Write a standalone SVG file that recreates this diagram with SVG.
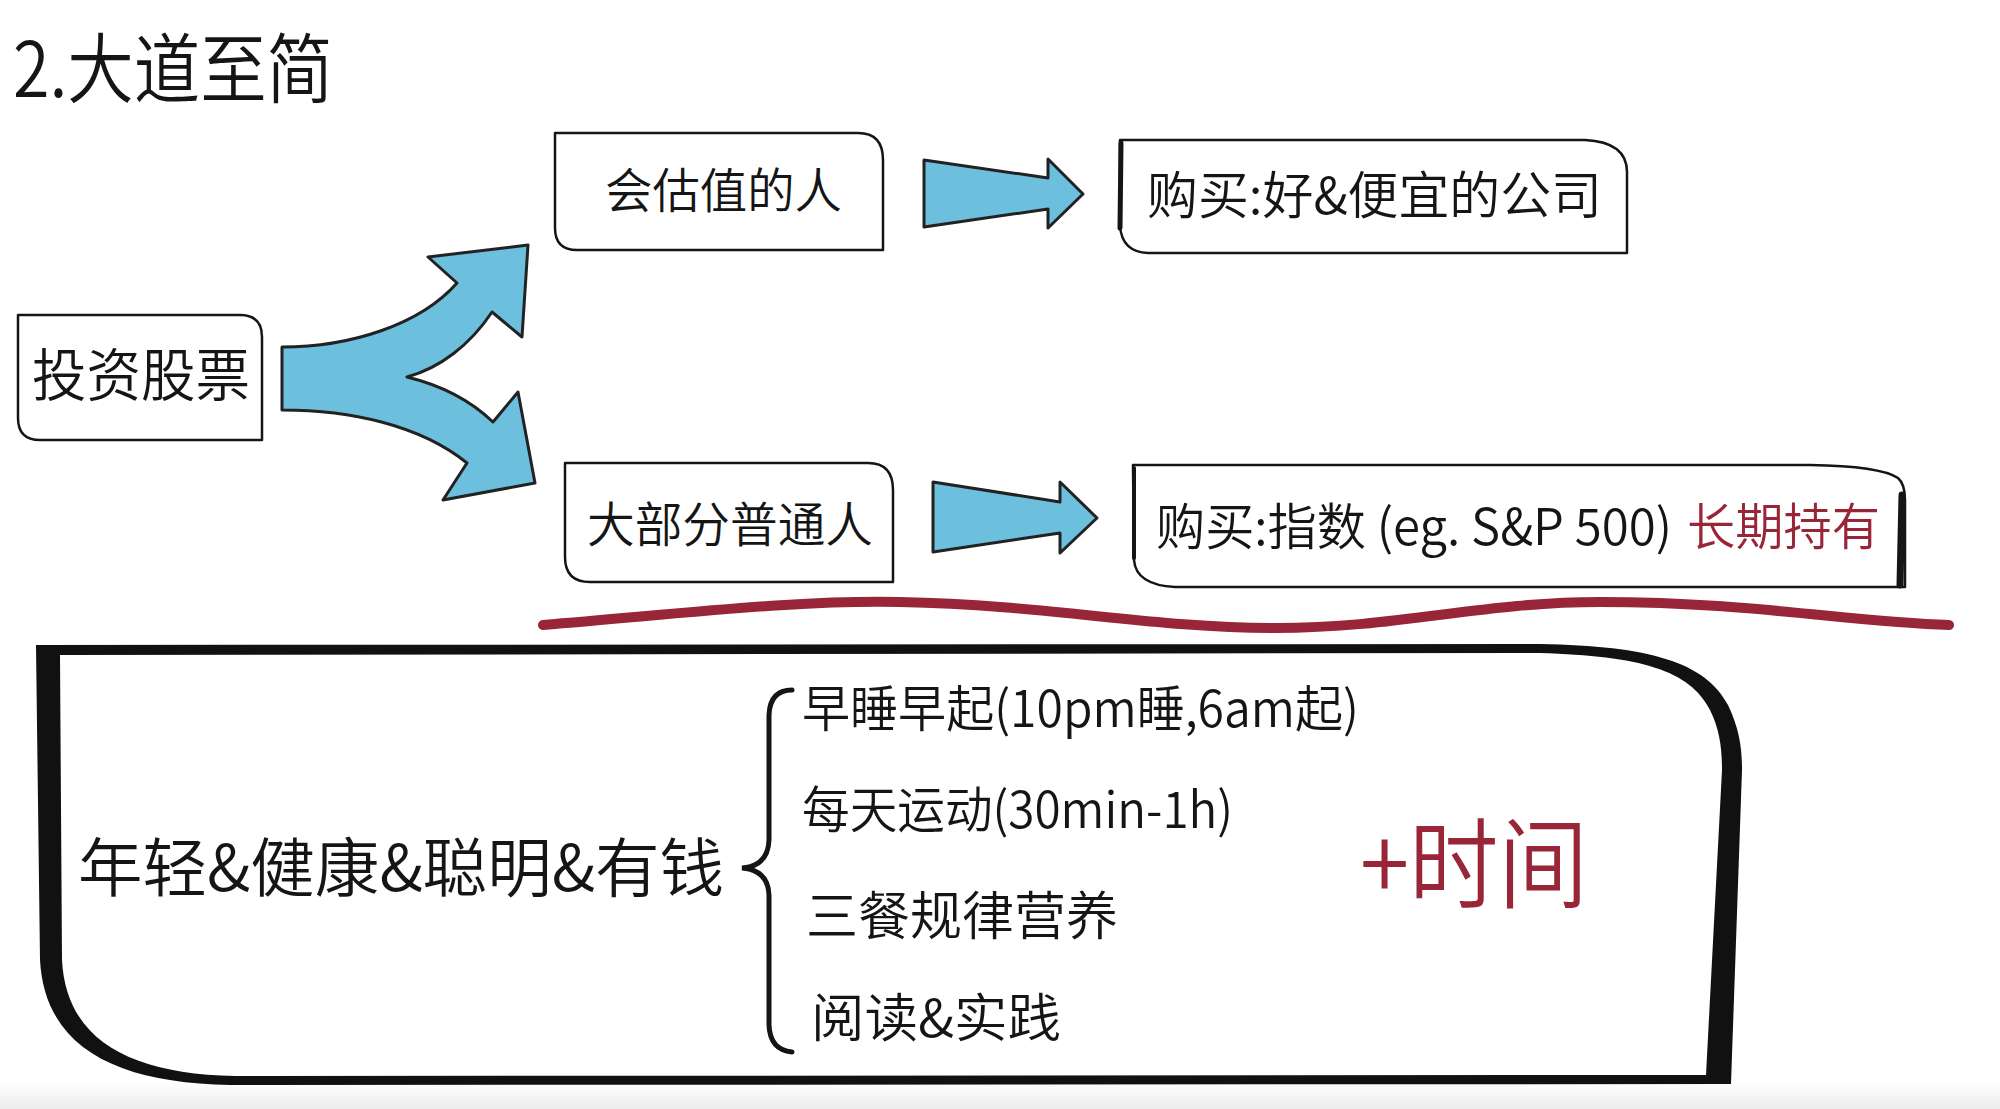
<svg xmlns="http://www.w3.org/2000/svg" width="2000" height="1109" viewBox="0 0 2000 1109">
<defs>
<style>
.t{font-family:"Noto Sans CJK SC","Noto Sans",sans-serif;font-weight:350;fill:#151515;}
.red{fill:#992638;}
.box{fill:#fff;stroke:#151515;stroke-width:2.5;stroke-linejoin:round;}
.edge{fill:none;stroke:#151515;stroke-linecap:round;}
.blue{fill:#6cbfdd;stroke:#222;stroke-width:3;stroke-linejoin:round;}
</style>
<linearGradient id="floor" x1="0" y1="0" x2="0" y2="1">
<stop offset="0" stop-color="#ffffff"/>
<stop offset="1" stop-color="#ececec"/>
</linearGradient>
</defs>
<rect x="0" y="0" width="2000" height="1109" fill="#ffffff"/>
<rect x="0" y="1082" width="2000" height="27" fill="url(#floor)"/>

<g id="title">
<text class="t" x="13" y="97" font-size="76" textLength="320" lengthAdjust="spacingAndGlyphs">2.大道至简</text>
</g>

<g id="node-invest">
<path class="box" d="M18,315 L240,315 Q262,315 262,337 L262,440 L40,440 Q18,440 18,418 Z"/>
<text class="t" x="32" y="396" font-size="57" textLength="218" lengthAdjust="spacingAndGlyphs">投资股票</text>
</g>

<g id="node-valuer">
<path class="box" d="M555,133 L858,133 Q883,133 883,160 L883,250 L577,250 Q555,250 555,228 Z"/>
<text class="t" x="605" y="208" font-size="48" textLength="237" lengthAdjust="spacingAndGlyphs">会估值的人</text>
</g>

<g id="node-buy-good">
<path class="box" d="M1120,140 L1585,140 Q1627,142 1627,172 L1627,253 L1148,253 Q1122,252 1120,226 Z"/>
<path class="edge" stroke-width="5" d="M1121,143 L1120,228"/>
<text class="t" x="1147" y="214" font-size="51" textLength="455" lengthAdjust="spacingAndGlyphs">购买:好&amp;便宜的公司</text>
</g>

<g id="node-majority">
<path class="box" d="M565,463 L868,463 Q893,463 893,490 L893,582 L590,582 Q565,582 565,557 Z"/>
<text class="t" x="587" y="542" font-size="48" textLength="286" lengthAdjust="spacingAndGlyphs">大部分普通人</text>
</g>

<g id="node-buy-index">
<path class="box" d="M1133,465 L1810,465 Q1880,466 1898,478 Q1905,484 1905,500 L1905,587 L1175,587 Q1136,585 1134,560 Z"/>
<path class="edge" stroke-width="7" d="M1902,495 L1900,585"/>
<path class="edge" stroke-width="4" d="M1134,468 L1134,558"/>
<text class="t" x="1156" y="545" font-size="50" textLength="516" lengthAdjust="spacingAndGlyphs">购买:指数 (eg. S&amp;P 500)</text>
<text class="t red" x="1687" y="545" font-size="50" textLength="193" lengthAdjust="spacingAndGlyphs">长期持有</text>
</g>

<g id="connectors">
<path class="blue" d="M282,347 C350,347 420,325 457,283 L428,257 L528,245 L522,337 L492,312 C470,345 440,368 407,377 C440,385 470,400 493,422 L518,392 L535,483 L443,500 L467,463 C420,425 350,410 282,410 Z"/>
<path class="blue" d="M924,160 L1048,178 L1048,159 L1083,194 L1048,228 L1048,209 L924,227 Z"/>
<path class="blue" d="M933,482 L1060,502 L1060,482 L1097,518 L1060,553 L1060,533 L933,552 Z"/>
</g>

<g id="underline">
<path d="M543,625 C700,612 800,600 900,602 C1050,605 1150,628 1275,628 C1400,628 1480,602 1600,602 C1750,602 1850,622 1949,625" fill="none" stroke="#992638" stroke-width="10" stroke-linecap="round"/>
</g>

<g id="node-summary">
<path fill="#111" fill-rule="evenodd" d="M36,645 L1540,644 C1650,646 1705,662 1728,705 C1740,730 1742,750 1742,770 L1731,1084 L230,1085 C120,1083 45,1050 40,960 Z M60,655 L1540,653 C1640,656 1690,670 1710,710 C1720,730 1722,750 1722,770 L1706,1075 L235,1076 C130,1074 66,1040 62,960 Z"/>
<text class="t" x="78" y="891" font-size="64" textLength="646" lengthAdjust="spacingAndGlyphs">年轻&amp;健康&amp;聪明&amp;有钱</text>
<path class="edge" stroke-width="5" d="M792,690 Q770,690 769,715 L769,840 Q768,866 742,868 Q768,870 769,895 L769,1025 Q770,1050 792,1052"/>
<text class="t" x="802" y="727" font-size="50" textLength="557" lengthAdjust="spacingAndGlyphs">早睡早起(10pm睡,6am起)</text>
<text class="t" x="802" y="828" font-size="50" textLength="431" lengthAdjust="spacingAndGlyphs">每天运动(30min-1h)</text>
<text class="t" x="806" y="935" font-size="52" textLength="312" lengthAdjust="spacingAndGlyphs">三餐规律营养</text>
<text class="t" x="811" y="1037" font-size="52" textLength="250" lengthAdjust="spacingAndGlyphs">阅读&amp;实践</text>
<text class="t red" x="1360" y="900" font-size="98" textLength="228" lengthAdjust="spacingAndGlyphs">+时间</text>
</g>
</svg>
